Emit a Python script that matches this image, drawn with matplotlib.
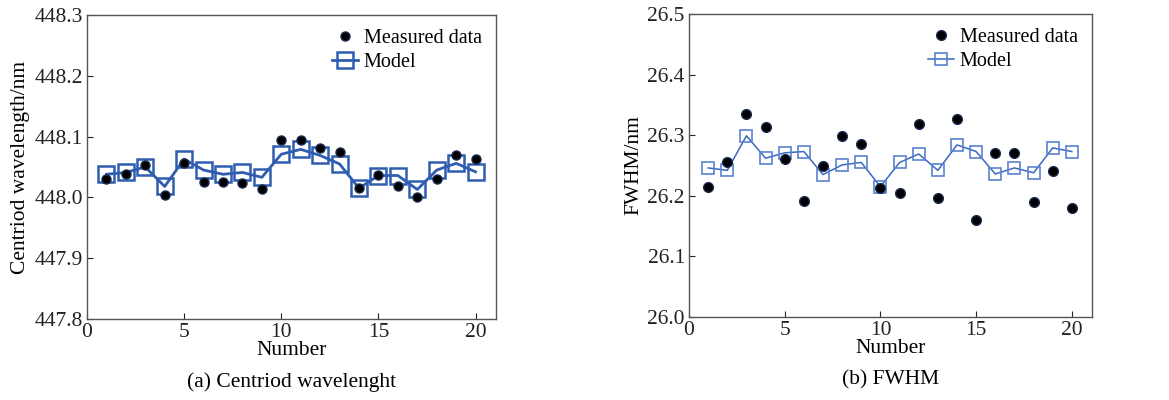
import numpy as np
import matplotlib
matplotlib.use("Agg")
import matplotlib.pyplot as plt

plt.rcParams['font.family'] = ['Liberation Serif', 'DejaVu Serif']
plt.rcParams['mathtext.fontset'] = 'stix'

number = np.arange(1, 21)

# centroid wavelength (nm)
cw_measured = [448.031, 448.039, 448.054, 448.004, 448.056, 448.026, 448.025, 448.024, 448.014, 448.095,
               448.094, 448.082, 448.075, 448.016, 448.037, 448.019, 448.000, 448.031, 448.070, 448.063]
cw_model = [448.038, 448.041, 448.050, 448.018, 448.063, 448.045, 448.038, 448.041, 448.033, 448.071,
            448.079, 448.069, 448.055, 448.015, 448.036, 448.036, 448.013, 448.045, 448.056, 448.042]

# FWHM (nm)
fw_measured = [26.215, 26.255, 26.335, 26.314, 26.260, 26.192, 26.249, 26.299, 26.286, 26.213,
               26.205, 26.319, 26.196, 26.327, 26.160, 26.270, 26.271, 26.190, 26.241, 26.180]
fw_model = [26.246, 26.242, 26.299, 26.262, 26.271, 26.273, 26.235, 26.251, 26.255, 26.215,
            26.255, 26.269, 26.242, 26.284, 26.273, 26.236, 26.246, 26.238, 26.279, 26.273]

fig = plt.figure(figsize=(11.69, 4.0), dpi=100)
ax1 = fig.add_axes([0.0744, 0.2025, 0.3499, 0.76])
ax2 = fig.add_axes([0.5894, 0.2075, 0.3447, 0.7575])

FS = 15.5


def style(ax, ylim, yticks, ylabel, caption):
    ax.set_xlim(0, 21.05)
    ax.set_ylim(*ylim)
    ax.set_xticks([0, 5, 10, 15, 20])
    ax.set_yticks(yticks)
    ax.set_yticklabels(['%.1f' % t for t in yticks])
    ax.tick_params(direction='in', length=4, width=0.8, labelsize=FS, colors='#222222',
                   top=False, right=False, pad=3)
    for s in ax.spines.values():
        s.set_color('#555555')
        s.set_linewidth(1.0)
    ax.set_xlabel('Number', fontsize=FS, labelpad=-1)
    ax.set_ylabel(ylabel, fontsize=FS, labelpad=3)
    ax.text(0.5, -0.175, caption, transform=ax.transAxes, ha='center', va='top', fontsize=FS)
    ax.legend(loc='upper right', frameon=False, fontsize=FS - 1, handlelength=1.3,
              handletextpad=0.3, labelspacing=0.25, borderaxespad=0.4, borderpad=0.3)


# (a) centroid wavelength
ax1.plot(number, cw_measured, 'o', color='black', mec='#1a2a50', ms=6.5, label='Measured data', zorder=3)
ax1.plot(number, cw_model, '-s', color='#2f5db0', lw=2.0, ms=12, mfc='none', mew=1.8,
         label='Model', zorder=2)
style(ax1, (447.8, 448.3), np.arange(447.8, 448.31, 0.1), 'Centriod wavelength/nm',
      '(a) Centriod wavelenght')

# (b) FWHM
ax2.plot(number, fw_measured, 'o', color='black', mec='#1a2a50', ms=7, label='Measured data', zorder=3)
ax2.plot(number, fw_model, '-s', color='#3a68c0', lw=1.1, ms=9, mfc='none', mec='#5a82d0', mew=1.2,
         label='Model', zorder=2)
style(ax2, (26.0, 26.5), np.arange(26.0, 26.51, 0.1), 'FWHM/nm', '(b) FWHM')

fig.savefig('out.png', dpi=100)
